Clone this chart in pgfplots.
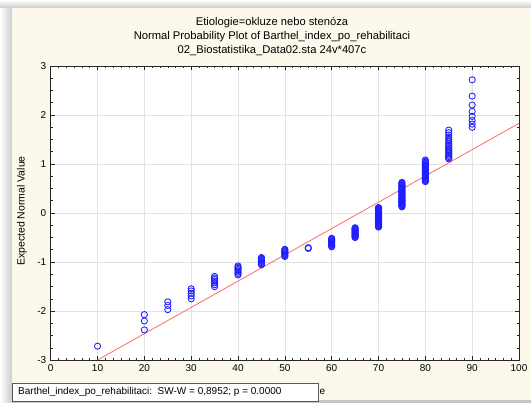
\documentclass[border=0pt]{standalone}
\usepackage{fontspec}
\setmainfont{Liberation Sans}
\usepackage{pgfplots}
\usepackage{pgfplotstable}
\pgfplotsset{compat=1.18}
\definecolor{cream}{HTML}{FDF8EC}
\definecolor{gridc}{HTML}{E2E2E2}
\definecolor{redl}{HTML}{FF6A6A}
\definecolor{bluem}{HTML}{1E1EFF}
\newcommand\f{\fontsize{10bp}{12bp}\selectfont}
\newcommand\ft{\fontsize{11.2bp}{13bp}\selectfont}
\pgfplotstableread{
x y
10 -2.718
20 -2.385
20 -2.203
20 -2.074
25 -1.972
25 -1.887
25 -1.814
30 -1.750
30 -1.692
30 -1.639
30 -1.591
30 -1.546
35 -1.503
35 -1.464
35 -1.426
35 -1.391
35 -1.357
35 -1.325
35 -1.294
40 -1.264
40 -1.235
40 -1.207
40 -1.180
40 -1.154
40 -1.129
40 -1.105
40 -1.081
45 -1.057
45 -1.034
45 -1.012
45 -0.990
45 -0.969
45 -0.948
45 -0.928
45 -0.908
50 -0.888
50 -0.869
50 -0.850
50 -0.831
50 -0.812
50 -0.794
50 -0.776
50 -0.759
50 -0.741
55 -0.724
55 -0.707
60 -0.690
60 -0.673
60 -0.657
60 -0.641
60 -0.625
60 -0.609
60 -0.593
60 -0.577
60 -0.562
60 -0.546
60 -0.531
60 -0.516
65 -0.501
65 -0.486
65 -0.471
65 -0.457
65 -0.442
65 -0.428
65 -0.413
65 -0.399
65 -0.385
65 -0.371
65 -0.357
65 -0.343
65 -0.329
65 -0.315
65 -0.301
70 -0.287
70 -0.273
70 -0.260
70 -0.246
70 -0.233
70 -0.219
70 -0.206
70 -0.192
70 -0.179
70 -0.165
70 -0.152
70 -0.139
70 -0.126
70 -0.112
70 -0.099
70 -0.086
70 -0.073
70 -0.059
70 -0.046
70 -0.033
70 -0.020
70 -0.007
70 0.007
70 0.020
70 0.033
70 0.046
70 0.059
70 0.073
70 0.086
70 0.099
70 0.112
75 0.126
75 0.139
75 0.152
75 0.165
75 0.179
75 0.192
75 0.206
75 0.219
75 0.233
75 0.246
75 0.260
75 0.273
75 0.287
75 0.301
75 0.315
75 0.329
75 0.343
75 0.357
75 0.371
75 0.385
75 0.399
75 0.413
75 0.428
75 0.442
75 0.457
75 0.471
75 0.486
75 0.501
75 0.516
75 0.531
75 0.546
75 0.562
75 0.577
75 0.593
75 0.609
75 0.625
80 0.641
80 0.657
80 0.673
80 0.690
80 0.707
80 0.724
80 0.741
80 0.759
80 0.776
80 0.794
80 0.812
80 0.831
80 0.850
80 0.869
80 0.888
80 0.908
80 0.928
80 0.948
80 0.969
80 0.990
80 1.012
80 1.034
80 1.057
80 1.081
85 1.105
85 1.129
85 1.154
85 1.180
85 1.207
85 1.235
85 1.264
85 1.294
85 1.325
85 1.357
85 1.391
85 1.426
85 1.464
85 1.503
85 1.546
85 1.591
85 1.639
85 1.692
90 1.750
90 1.814
90 1.887
90 1.972
90 2.074
90 2.203
90 2.385
90 2.718
}\datatable
\begin{document}
\begin{tikzpicture}[font=\f]
\useasboundingbox (0,0) rectangle (531bp,403bp);
\fill[white] (0,0) rectangle (531bp,403bp);
\shade[left color=white, right color=gray!40] (0,0) rectangle (12bp,395bp);
\shade[top color=white, bottom color=gray!40] (0,395bp) rectangle (531bp,403bp);
\fill[gray!45] (12bp,0) rectangle (531bp,3bp);
\fill[cream] (12bp,3bp) rectangle (531bp,395bp);
\begin{axis}[
  at={(50.7bp,43bp)}, anchor=south west,
  scale only axis, width=468.3bp, height=294bp,
  xmin=0, xmax=100, ymin=-3, ymax=3,
  xtick={0,10,...,100}, ytick={-3,-2,...,3},
  minor x tick num=5, minor y tick num=3,
  tick align=inside,
  major tick length=4bp, minor tick length=2.5bp,
  tick style={black!85, line width=0.5pt},
  axis line style={black!85, line width=0.6pt},
  axis background/.style={fill=white},
  grid=major, major grid style={gridc, line width=0.6pt},
  /pgf/number format/assume math mode=true,
  tick label style={font=\f},
  xticklabel style={yshift=-1bp},
  yticklabel style={xshift=-1bp},
]
\addplot[redl, line width=0.8pt] coordinates {(10,-3) (100,1.83)};
\addplot[only marks, mark=o, mark size=3.1bp, bluem, mark options={line width=0.85pt}] table[x=x,y=y] {\datatable};
\end{axis}
\node[font=\ft] at (272bp,380.5bp) {Etiologie=okluze nebo stenóza};
\node[font=\ft] at (272bp,366.3bp) {Normal Probability Plot of Barthel\_index\_po\_rehabilitaci};
\node[font=\ft] at (272bp,352.2bp) {02\_Biostatistika\_Data02.sta 24v*407c};
\node[rotate=90, font=\fontsize{10.5bp}{12bp}\selectfont] at (22bp,192bp) {Expected Normal Value};
\draw[gray!70!black, fill=white, line width=0.6pt] (12bp,2bp) rectangle (318bp,20bp);
\node[anchor=west, inner sep=0] at (18bp,11bp) {Barthel\_index\_po\_rehabilitaci:\ \ SW-W = 0,8952; p = 0.0000};
\node[anchor=west, inner sep=0] at (319.5bp,11bp) {e};
\end{tikzpicture}
\end{document}
